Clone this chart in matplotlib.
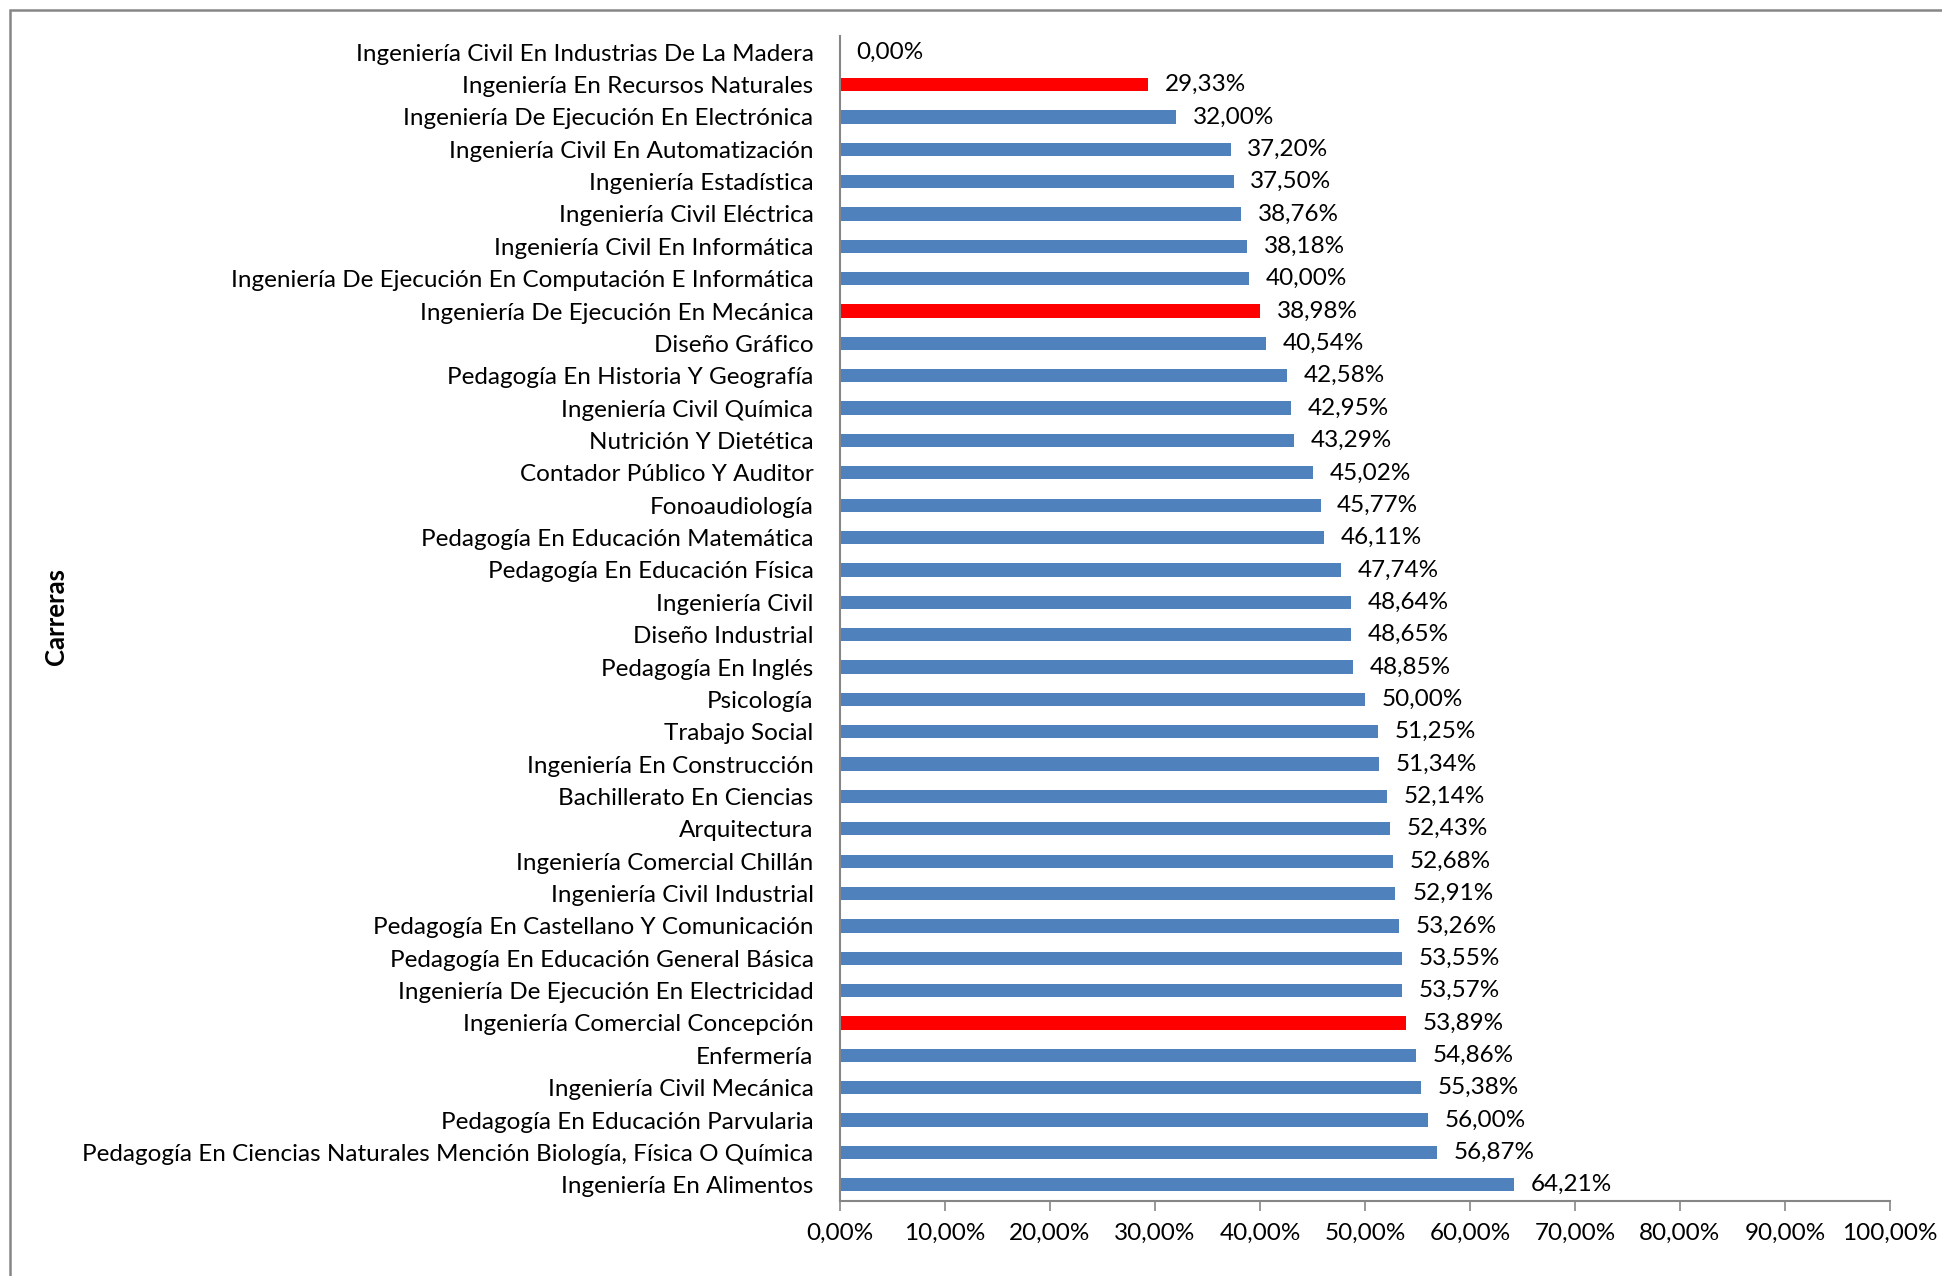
import matplotlib.pyplot as plt
from matplotlib.patches import Rectangle

# Careers, from top to bottom as shown in the chart
carreras = [
    'Ingeniería Civil En Industrias De La Madera',
    'Ingeniería En Recursos Naturales',
    'Ingeniería De Ejecución En Electrónica',
    'Ingeniería Civil En Automatización',
    'Ingeniería Estadística',
    'Ingeniería Civil Eléctrica',
    'Ingeniería Civil En Informática',
    'Ingeniería De Ejecución En Computación E Informática',
    'Ingeniería De Ejecución En Mecánica',
    'Diseño Gráfico',
    'Pedagogía En Historia Y Geografía',
    'Ingeniería Civil Química',
    'Nutrición Y Dietética',
    'Contador Público Y Auditor',
    'Fonoaudiología',
    'Pedagogía En Educación Matemática',
    'Pedagogía En Educación Física',
    'Ingeniería Civil',
    'Diseño Industrial',
    'Pedagogía En Inglés',
    'Psicología',
    'Trabajo Social',
    'Ingeniería En Construcción',
    'Bachillerato En Ciencias',
    'Arquitectura',
    'Ingeniería Comercial Chillán',
    'Ingeniería Civil Industrial',
    'Pedagogía En Castellano Y Comunicación',
    'Pedagogía En Educación General Básica',
    'Ingeniería De Ejecución En Electricidad',
    'Ingeniería Comercial Concepción',
    'Enfermería',
    'Ingeniería Civil Mecánica',
    'Pedagogía En Educación Parvularia',
    'Pedagogía En Ciencias Naturales Mención Biología, Física O Química',
    'Ingeniería En Alimentos',
]

# bar lengths (percent)
valores = [0.00, 29.33, 32.00, 37.20, 37.50, 38.18, 38.76, 38.98, 40.00, 40.54,
           42.58, 42.95, 43.29, 45.02, 45.77, 46.11, 47.74, 48.64, 48.65, 48.85,
           50.00, 51.25, 51.34, 52.14, 52.43, 52.68, 52.91, 53.26, 53.55, 53.57,
           53.89, 54.86, 55.38, 56.00, 56.87, 64.21]

# data labels as printed on the chart (a few are out of order in the original)
etiquetas = ['0,00%', '29,33%', '32,00%', '37,20%', '37,50%', '38,76%', '38,18%',
             '40,00%', '38,98%', '40,54%', '42,58%', '42,95%', '43,29%', '45,02%',
             '45,77%', '46,11%', '47,74%', '48,64%', '48,65%', '48,85%', '50,00%',
             '51,25%', '51,34%', '52,14%', '52,43%', '52,68%', '52,91%', '53,26%',
             '53,55%', '53,57%', '53,89%', '54,86%', '55,38%', '56,00%', '56,87%',
             '64,21%']

# highlighted careers
destacadas = ['Ingeniería En Recursos Naturales',
              'Ingeniería De Ejecución En Mecánica',
              'Ingeniería Comercial Concepción']

x_ticks = [0, 10, 20, 30, 40, 50, 60, 70, 80, 90, 100]

plt.rcParams['font.family'] = ['Lato', 'DejaVu Sans']
fs = 17.5

fig = plt.figure(figsize=(19.42, 12.76), dpi=100)
ax = fig.add_axes([0.4325, 0.0588, 0.5407, 0.913])

colores = ['#FF0000' if c in destacadas else '#4F81BD' for c in carreras]
y = list(range(len(carreras)))
ax.barh(y, valores, height=0.41, color=colores)

# value labels next to each bar
for yi, v, t in zip(y, valores, etiquetas):
    ax.annotate(t, xy=(v, yi), xytext=(12, 0), textcoords='offset points',
                ha='left', va='center', fontsize=fs, color='black')

ax.set_ylim(len(carreras) - 0.5, -0.5)
ax.set_xlim(0, 100)
ax.set_yticks(y)
ax.set_yticklabels(carreras, fontsize=fs)
ax.tick_params(axis='y', length=0, pad=19)
ax.set_xticks(x_ticks)
ax.set_xticklabels(['%d,00%%' % t for t in x_ticks], fontsize=fs)
ax.tick_params(axis='x', length=7, width=1.2, color='#868686', pad=9)

for s in ['top', 'right']:
    ax.spines[s].set_visible(False)
for s in ['left', 'bottom']:
    ax.spines[s].set_color('#868686')
    ax.spines[s].set_linewidth(1.5)

fig.text(0.029, 0.517, 'Carreras', rotation=90, ha='center', va='center',
         fontsize=18.5, fontweight='bold')

# chart area border (right and bottom edges fall outside the picture)
fig.patches.append(Rectangle((0.005, -0.5), 2, 1.5 - 10 / 1276,
                             transform=fig.transFigure, fill=False,
                             edgecolor='#868686', linewidth=1.8))

fig.savefig('out.png', dpi=100)
